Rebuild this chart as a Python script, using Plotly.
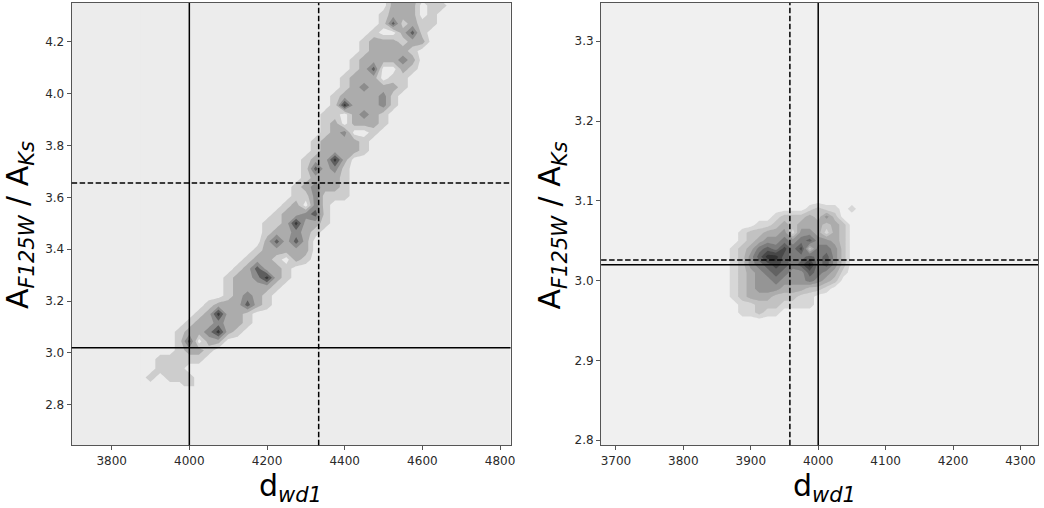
import plotly.graph_objects as go

# ---------------- Left panel: 2D histogram (density level per bin) ----------------
LEFT_X = [3875, 3900, 3925, 3950, 3975, 4000, 4025, 4050, 4075, 4100, 4125, 4150,
          4175, 4200, 4225, 4250, 4275, 4300, 4325, 4350, 4375, 4400, 4425, 4450,
          4475, 4500, 4525, 4550, 4575, 4600, 4625, 4650, 4675]
LEFT_Y = [2.870, 2.905, 2.940, 2.975, 3.010, 3.045, 3.080, 3.115, 3.150, 3.185,
          3.220, 3.255, 3.290, 3.325, 3.360, 3.395, 3.430, 3.465, 3.500, 3.535,
          3.570, 3.605, 3.640, 3.675, 3.710, 3.745, 3.780, 3.815, 3.850, 3.885,
          3.920, 3.955, 3.990, 4.025, 4.060, 4.095, 4.130, 4.165, 4.200, 4.235,
          4.270, 4.305, 4.340, 4.375]
# each row: (first column index, density levels from that column on)
LEFT_ROWS = [
    (5, "1"), (1, "10111"), (2, "111"), (2, "11111"), (4, "1221"),
    (4, "14022"), (4, "1223521"), (5, "1223221"), (6, "125221"), (7, "1222421"),
    (9, "12321"), (9, "122221"), (9, "1223521"), (10, "124221"), (11, "1221021"),
    (12, "122222"), (13, "24242"), (13, "122321"), (13, "1125221"), (14, "122341"),
    (15, "12031"), (16, "113111"), (16, "123221"), (17, "12221"), (17, "14231"),
    (17, "12252"), (18, "122221"), (18, "122221"), (19, "123001"), (19, "1202221"),
    (19, "1102321"), (20, "1522231"), (20, "1222231"), (21, "1232221"), (21, "1222011"),
    (22, "1240021"), (22, "1222232"), (23, "122221"), (23, "1222122"), (24, "100241"),
    (25, "141211"), (25, "122201"), (26, "222011"), (26, "2221"),
]
LEFT_TRUE_D, LEFT_TRUE_A = 4000, 3.02
LEFT_EST_D, LEFT_EST_A = 4333, 3.655

# ---------------- Right panel ----------------
RIGHT_X = [3850, 3862.5, 3875, 3887.5, 3900, 3912.5, 3925, 3937.5, 3950, 3962.5,
           3975, 3987.5, 4000, 4012.5, 4025, 4037.5, 4050, 4062.5, 4075]
RIGHT_Y = [2.94, 2.95, 2.96, 2.97, 2.98, 2.99, 3.00, 3.01, 3.02, 3.03, 3.04, 3.05,
           3.06, 3.07, 3.08, 3.09, 3.10, 3.11]
RIGHT_ROWS = [
    (0, ""), (0, ""), (3, "11211"), (3, "112221111"), (2, "1233322211"),
    (2, "123444333221"), (2, "1234454445432"), (2, "12345654465431"),
    (2, "12456765685642"), (2, "12468865565642"), (2, "12356575725542"),
    (3, "1234454564432"), (3, "1223341443132"), (5, "11232333232"),
    (7, "12223242"), (11, "121101"), (0, ""), (0, ""),
]
RIGHT_TRUE_D, RIGHT_TRUE_A = 4000, 3.02
RIGHT_EST_D, RIGHT_EST_A = 3958, 3.026

LEFT_TICKS_X = [3800, 4000, 4200, 4400, 4600, 4800]
LEFT_TICKS_Y = [2.8, 3.0, 3.2, 3.4, 3.6, 3.8, 4.0, 4.2]
RIGHT_TICKS_X = [3700, 3800, 3900, 4000, 4100, 4200, 4300]
RIGHT_TICKS_Y = [2.8, 2.9, 3.0, 3.1, 3.2, 3.3]

LEFT_COLORS = ["#ececec", "#cdcdcd", "#acacac", "#8c8c8c", "#5e5e5e", "#383838"]
RIGHT_COLORS = ["#f0f0f0", "#d7d7d7", "#c2c2c2", "#acacac", "#959595",
                "#7c7c7c", "#626262", "#484848", "#323232"]


def expand(rows, ncols):
    z = []
    for start, digits in rows:
        row = [0] * ncols
        for k, ch in enumerate(digits):
            row[start + k] = int(ch)
        z.append(row)
    return z


def scale(colors):
    n = len(colors) - 1
    return [[i / n, c] for i, c in enumerate(colors)]


def contour(x, y, z, colors, xa, ya):
    n = len(colors) - 1
    return go.Contour(
        x=x, y=y, z=z, xaxis=xa, yaxis=ya,
        autocontour=False,
        contours=dict(start=0.5, end=n - 0.5, size=1, coloring="fill", showlines=False),
        line=dict(width=0, smoothing=0),
        colorscale=scale(colors), showscale=False, hoverinfo="skip",
    )


fig = go.Figure()
fig.add_trace(contour(LEFT_X, LEFT_Y, expand(LEFT_ROWS, len(LEFT_X)), LEFT_COLORS, "x", "y"))
fig.add_trace(contour(RIGHT_X, RIGHT_Y, expand(RIGHT_ROWS, len(RIGHT_X)), RIGHT_COLORS, "x2", "y2"))

W, H = 1044, 508
font = "DejaVu Sans"
axis_common = dict(showgrid=False, zeroline=False, showline=True, mirror=True,
                   linecolor="#555555", linewidth=1, ticks="outside", ticklen=4,
                   tickcolor="#555555", tickfont=dict(family=font, size=12, color="#2a2a2a"))

ydom = [1 - 447 / H, 1 - 3 / H]
fig.update_layout(
    width=W, height=H, margin=dict(l=0, r=0, t=0, b=0), autosize=False,
    paper_bgcolor="white", plot_bgcolor=LEFT_COLORS[0], showlegend=False,
    xaxis=dict(domain=[72 / W, 513 / W], range=[3697, 4827], tickvals=LEFT_TICKS_X,
               anchor="y", **axis_common),
    yaxis=dict(domain=ydom, range=[2.6435, 4.35], tickvals=LEFT_TICKS_Y,
               tickformat=".1f", anchor="x", **axis_common),
    xaxis2=dict(domain=[604 / W, 1043 / W], range=[3678, 4326], tickvals=RIGHT_TICKS_X,
                anchor="y2", **axis_common),
    yaxis2=dict(domain=ydom, range=[2.7938, 3.348], tickvals=RIGHT_TICKS_Y,
                tickformat=".1f", anchor="x2", **axis_common),
)

# right panel background (slightly lighter)
fig.add_shape(type="rect", xref="x2 domain", yref="y2 domain", x0=0, x1=1, y0=0, y1=1,
              fillcolor=RIGHT_COLORS[0], line=dict(width=0), layer="below")


def add_lines(xa, ya, true_d, true_a, est_d, est_a):
    solid = dict(color="black", width=1.5)
    dashed = dict(color="black", width=1.5, dash="5.5px,2.5px")
    fig.add_shape(type="line", xref=xa, yref=ya + " domain", x0=true_d, x1=true_d, y0=0, y1=1, line=solid)
    fig.add_shape(type="line", xref=xa + " domain", yref=ya, x0=0, x1=1, y0=true_a, y1=true_a, line=solid)
    fig.add_shape(type="line", xref=xa, yref=ya + " domain", x0=est_d, x1=est_d, y0=0, y1=1, line=dashed)
    fig.add_shape(type="line", xref=xa + " domain", yref=ya, x0=0, x1=1, y0=est_a, y1=est_a, line=dashed)


add_lines("x", "y", LEFT_TRUE_D, LEFT_TRUE_A, LEFT_EST_D, LEFT_EST_A)
add_lines("x2", "y2", RIGHT_TRUE_D, RIGHT_TRUE_A, RIGHT_EST_D, RIGHT_EST_A)

XTITLE = "d<sub><i>wd1</i></sub>"
YTITLE = "A<sub><i>F125W</i></sub> / A<sub><i>Ks</i></sub>"
tfont = dict(family=font, size=30, color="black")
for xc in (292 / W, 828 / W):
    fig.add_annotation(text=XTITLE, xref="paper", yref="paper", x=xc, y=1 - 489 / H,
                       xanchor="center", yanchor="middle", showarrow=False, font=tfont)
for xc in (19 / W, 554 / W):
    fig.add_annotation(text=YTITLE, xref="paper", yref="paper", x=xc, y=1 - 226 / H,
                       xanchor="center", yanchor="middle", showarrow=False, font=tfont,
                       textangle=-90, borderpad=0)

# remove the browser's default page margin so the figure sits at the window's corner
fig.write_html("out.html", config={"displayModeBar": False},
               post_script="document.body.style.margin='0';")
